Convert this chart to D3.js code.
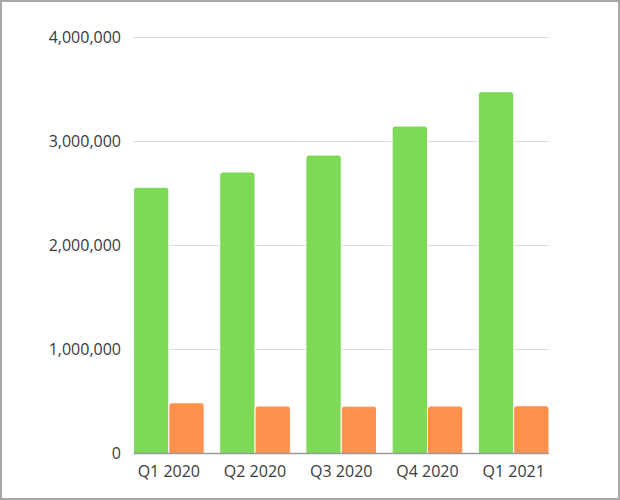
<!DOCTYPE html>
<html lang="en">
<head>
<meta charset="UTF-8">
<title>Quarterly bars</title>
<script src="https://d3js.org/d3.v7.min.js"></script>
<style>
    html, body { margin: 0; padding: 0; background: #fff; }
    #chart {
        width: 620px;
        height: 500px;
        box-sizing: border-box;
        border: 2px solid #a8a8a8;
        position: relative;
    }
    #chart svg { position: absolute; left: -2px; top: -2px; }
    text { font-family: 'Open Sans', sans-serif; font-size: 16px; fill: #3a3a3a; }
</style>
</head>
<body>
<div id="chart"></div>
<script>
// data
const quarters = ["Q1 2020", "Q2 2020", "Q3 2020", "Q4 2020", "Q1 2021"];
const greenValues = [2560000, 2707000, 2870000, 3149000, 3479000];
const orangeValues = [488000, 457000, 455000, 457000, 460000];
const yTicks = [0, 1000000, 2000000, 3000000, 4000000];

const seriesKeys = ["green", "orange"];
const colors = { green: "#7ed957", orange: "#ff914d" };

const rows = quarters.map((q, i) => ({ quarter: q, green: greenValues[i], orange: orangeValues[i] }));

const W = 620, H = 500;
const plot = { left: 133.5, right: 549, top: 37.5, bottom: 453.5 };

const svg = d3.select("#chart").append("svg")
    .attr("width", W)
    .attr("height", H);

const x = d3.scaleBand().domain(quarters).range([plot.left, plot.right]).paddingInner(0.18).paddingOuter(0);
const xSub = d3.scaleBand().domain(seriesKeys).range([0, x.bandwidth()]).padding(0);
const y = d3.scaleLinear().domain([0, 4000000]).range([plot.bottom, plot.top]);

// gridlines + y labels
const yAxis = svg.append("g");
yAxis.selectAll("line.grid")
    .data(yTicks.filter(d => d > 0))
    .join("line")
    .attr("class", "grid")
    .attr("x1", plot.left).attr("x2", plot.right)
    .attr("y1", d => y(d)).attr("y2", d => y(d))
    .attr("stroke", "#dcdcdc")
    .attr("stroke-width", 1.2);

yAxis.selectAll("text")
    .data(yTicks)
    .join("text")
    .attr("x", 121)
    .attr("y", d => y(d))
    .attr("dy", "0.35em")
    .attr("text-anchor", "end")
    .text(d => d3.format(",")(d));

// rounded-top bar path
function barPath(x0, w, y0, y1, r) {
    r = Math.min(r, w / 2, y0 - y1);
    return `M${x0},${y0}V${y1 + r}Q${x0},${y1} ${x0 + r},${y1}H${x0 + w - r}Q${x0 + w},${y1} ${x0 + w},${y1 + r}V${y0}Z`;
}

const groups = svg.append("g").selectAll("g")
    .data(rows)
    .join("g")
    .attr("transform", d => `translate(${x(d.quarter)},0)`);

groups.selectAll("path")
    .data(d => seriesKeys.map(k => ({ key: k, value: d[k] })))
    .join("path")
    .attr("d", d => barPath(xSub(d.key), xSub.bandwidth(), y(0), y(d.value), 3))
    .attr("fill", d => colors[d.key])
    .attr("stroke", "#ffffff")
    .attr("stroke-width", 1);

// baseline
svg.append("line")
    .attr("x1", plot.left).attr("x2", plot.right)
    .attr("y1", y(0)).attr("y2", y(0))
    .attr("stroke", "#9a9a9a")
    .attr("stroke-width", 1.5);

// x labels
svg.append("g").selectAll("text")
    .data(quarters)
    .join("text")
    .attr("x", d => x(d) + x.bandwidth() / 2)
    .attr("y", 476.5)
    .attr("text-anchor", "middle")
    .text(d => d);
</script>
</body>
</html>
